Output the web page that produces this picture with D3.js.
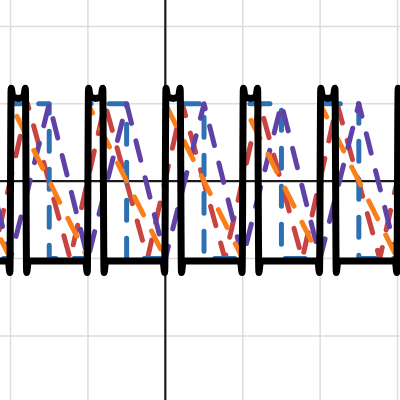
<!DOCTYPE html>
<html>
<head>
<meta charset="utf-8">
<script src="https://cdn.jsdelivr.net/npm/d3@7"></script>
<style>
  html, body { margin: 0; padding: 0; background: #fff; }
  svg { display: block; }
</style>
</head>
<body>
<svg id="chart" width="400" height="400"></svg>
<script>
// ---- data ----
const xGrid = [-2, -1, 0, 1, 2, 3];
const yGrid = [-2, -1, 0, 1, 2];
const periods = [-3, -2, -1, 0, 1, 2, 3];

// one period of each curve (x within the period, y value)
const redX = [0.22, 0.77];
const redY = [1, -1];
const blueX = [0, 0, 0.5, 0.5];
const blueY = [-1, 1, 1, -1];
const purpleX = [0, 0.5];
const purpleY = [-1, 1];
const orangeX = [0, 1];
const orangeY = [1, -1];
const blackX = [-0.03, -0.008, 0.008, 0.03, 0.1, 0.17, 0.192, 0.208, 0.23, 0.5];
const blackY = [-1.03, -1.18, 1.2, 1.09, 1.07, 1.09, 1.2, -1.18, -1.03, -1.03];

// ---- chart ----
const W = 400, H = 400;
const x = d3.scaleLinear().domain([-2.136, 3.032]).range([0, W]);
const y = d3.scaleLinear().domain([2.341, -2.827]).range([0, H]);
const svg = d3.select('#chart');

svg.append('rect').attr('width', W).attr('height', H).attr('fill', '#fff');

// grid
svg.append('g').selectAll('line').data(xGrid).join('line')
  .attr('x1', d => x(d)).attr('x2', d => x(d)).attr('y1', 0).attr('y2', H)
  .attr('stroke', '#dcdcdc').attr('stroke-width', 1.5);
svg.append('g').selectAll('line').data(yGrid).join('line')
  .attr('y1', d => y(d)).attr('y2', d => y(d)).attr('x1', 0).attr('x2', W)
  .attr('stroke', '#dcdcdc').attr('stroke-width', 1.5);

// axes
svg.append('line').attr('x1', x(0)).attr('x2', x(0)).attr('y1', 0).attr('y2', H)
  .attr('stroke', '#1a1a1a').attr('stroke-width', 2.2);
svg.append('line').attr('y1', y(0)).attr('y2', y(0)).attr('x1', 0).attr('x2', W)
  .attr('stroke', '#1a1a1a').attr('stroke-width', 2.2);

function tile(px, py) {
  const pts = [];
  periods.forEach(k => px.forEach((v, i) => pts.push([k + v, py[i]])));
  return pts;
}

const linear = d3.line().x(d => x(d[0])).y(d => y(d[1]));
const smooth = d3.line().x(d => x(d[0])).y(d => y(d[1])).curve(d3.curveMonotoneX);

const series = [
  { px: redX, py: redY, color: '#c74440' },
  { px: blueX, py: blueY, color: '#2d70b3' },
  { px: purpleX, py: purpleY, color: '#6042a6' },
  { px: orangeX, py: orangeY, color: '#fa7e19' }
];

series.forEach(s => {
  svg.append('path').datum(tile(s.px, s.py))
    .attr('d', linear)
    .attr('fill', 'none')
    .attr('stroke', s.color)
    .attr('stroke-width', 5)
    .attr('stroke-linecap', 'round')
    .attr('stroke-linejoin', 'round')
    .attr('stroke-dasharray', '20,18');
});

svg.append('path').datum(tile(blackX, blackY))
  .attr('d', smooth)
  .attr('fill', 'none')
  .attr('stroke', '#000')
  .attr('stroke-width', 7)
  .attr('stroke-linecap', 'round')
  .attr('stroke-linejoin', 'round');
</script>
</body>
</html>
